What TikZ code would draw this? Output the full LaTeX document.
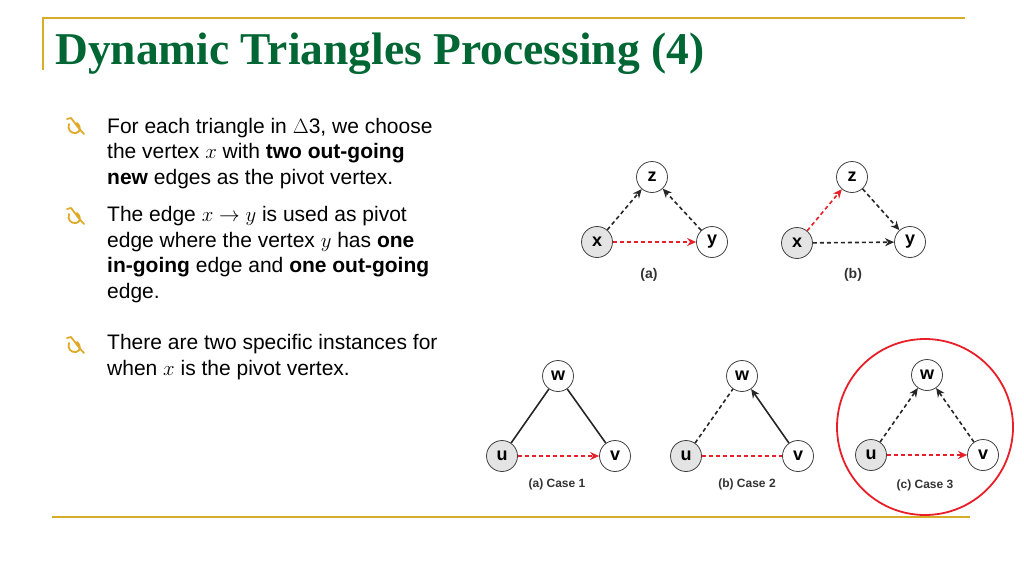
\documentclass[tikz,border=0pt]{standalone}
\usepackage{fontspec}
\setmainfont{Liberation Serif}
\setsansfont{Liberation Sans}
\usepackage{tikz}
\usetikzlibrary{arrows.meta, positioning}
\definecolor{titlegreen}{RGB}{0,102,51}
\definecolor{rulegold}{RGB}{214,172,40}
\definecolor{bulletgold}{RGB}{222,170,40}
\definecolor{pivotred}{RGB}{232,30,40}
\definecolor{pivotfill}{RGB}{228,228,228}
\tikzset{
    vertex/.style={
        circle,
        draw=black!75,
        thick,
        fill=white,
        minimum size=31pt,
        inner sep=0pt,
        font=\fontsize{18}{18}\selectfont\sffamily\bfseries
    },
    pivot/.style={
        vertex,
        fill=pivotfill
    },
    sublabel/.style={
        text=black!80,
        font=\fontsize{12}{12}\selectfont\sffamily\bfseries
    },
    toplabel/.style={
        sublabel,
        font=\fontsize{14}{14}\selectfont\sffamily\bfseries
    },
    bodytext/.style={
        anchor=base west,
        align=left,
        inner sep=0pt,
        font=\fontsize{21}{25.5}\selectfont\sffamily
    },
    titletext/.style={
        anchor=base west,
        inner sep=0pt,
        text=titlegreen,
        font=\fontsize{45.5}{46}\selectfont\bfseries
    },
    solidedge/.style={
        draw=black!85,
        line width=1.6pt
    },
    solidarc/.style={
        solidedge,
        -{Stealth[length=9pt,width=8pt]}
    },
    blackdash/.style={
        draw=black!85,
        line width=1.6pt,
        dash pattern=on 4pt off 3pt
    },
    blackarc/.style={
        blackdash,
        -{Stealth[length=9pt,width=8pt]}
    },
    reddash/.style={
        draw=pivotred,
        line width=1.6pt,
        dash pattern=on 4pt off 3pt
    },
    redarc/.style={
        reddash,
        -{Stealth[length=9pt,width=8pt]}
    },
    goldrule/.style={
        draw=rulegold,
        line width=1.4pt
    },
    bulletmark/.pic={
        \draw[bulletgold, line width=1.8pt, line cap=round, line join=round]
            (0,1) -- (4,0) .. controls (8,5) and (12,11) .. (17,16)
            (2,6) .. controls (0,11) and (4,16) .. (9,15)
            .. controls (14,14) and (14,8) .. (10,5);
    }
}

\begin{document}
\begin{tikzpicture}[x=1pt, y=-1pt]
\useasboundingbox (0,0) rectangle (1024,576);
% Slide frame
\draw[goldrule] (43,70) -- (43,18) -- (965,18);
\draw[goldrule] (52,517) -- (970,517);
\node[titletext] (title) at (55,64) {Dynamic Triangles Processing (4)};

% Bullets
\pic at (67,118) {bulletmark};
\pic at (67,208) {bulletmark};
\pic at (67,337) {bulletmark};
\node[bodytext] (first) at (107,184) {For each triangle in $\Delta$3, we choose\\
the vertex $x$ with \textbf{two out-going}\\
\textbf{new} edges as the pivot vertex.};
\node[bodytext] (second) at (107,298) {The edge $x \rightarrow y$ is used as pivot\\
edge where the vertex $y$ has \textbf{one}\\
\textbf{in-going} edge and \textbf{one out-going}\\
edge.};
\node[bodytext] (third) at (107,375) {There are two specific instances for\\
when $x$ is the pivot vertex.};

% Pivot edge (a) and (b)
\node[vertex] (za) at (652,177) {z};
\node[pivot] (xa) at (597,242) {x};
\node[vertex] (ya) at (712,242) {y};
\node[toplabel] (capa) at (649,275) {(a)};
\draw[blackarc] (xa) -- (za);
\draw[blackarc] (ya) -- (za);
\draw[redarc] (xa) -- (ya);

\node[vertex] (zb) at (852,177) {z};
\node[pivot] (xb) at (797,243) {x};
\node[vertex] (yb) at (910,242) {y};
\node[toplabel] (capb) at (853,275) {(b)};
\draw[redarc] (xb) -- (zb);
\draw[blackarc] (zb) -- (yb);
\draw[blackarc] (xb) -- (yb);

% Cases
\node[vertex] (w1) at (558,376) {w};
\node[pivot] (u1) at (502,456) {u};
\node[vertex] (v1) at (615,456) {v};
\node[sublabel] (case1) at (557,484) {(a) Case 1};
\draw[solidedge] (u1) -- (w1);
\draw[solidedge] (w1) -- (v1);
\draw[redarc] (u1) -- (v1);

\node[vertex] (w2) at (742,376) {w};
\node[pivot] (u2) at (686,456) {u};
\node[vertex] (v2) at (798,456) {v};
\node[sublabel] (case2) at (747,484) {(b) Case 2};
\draw[blackdash] (u2) -- (w2);
\draw[solidarc] (v2) -- (w2);
\draw[reddash] (u2) -- (v2);

\node[vertex] (w3) at (927,375) {w};
\node[pivot] (u3) at (871,455) {u};
\node[vertex] (v3) at (983,455) {v};
\node[sublabel] (case3) at (925,485) {(c) Case 3};
\draw[blackarc] (u3) -- (w3);
\draw[blackarc] (v3) -- (w3);
\draw[redarc] (u3) -- (v3);
\draw[pivotred, line width=1.8pt] (925,427) circle[radius=88];
\end{tikzpicture}
\end{document}
